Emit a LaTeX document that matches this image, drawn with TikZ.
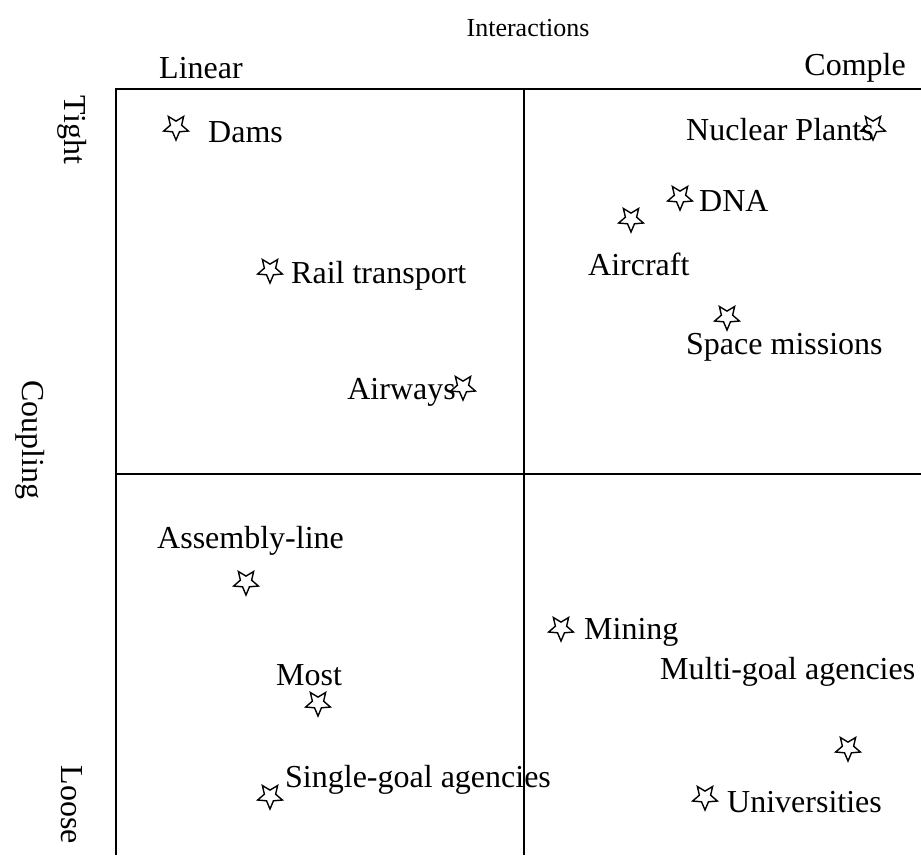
\documentclass[tikz,border=0pt]{standalone}
\usepackage{fontspec}
\setmainfont{Liberation Serif}
\usetikzlibrary{shapes.geometric}
\begin{document}
\begin{tikzpicture}[x=1pt,y=-1pt,
  lbl/.style={inner sep=0pt,font=\fontsize{32}{37}\selectfont},
  lblw/.style={lbl,anchor=west},
  mark5/.style={draw,star,star points=5,star point ratio=2.2,minimum size=26pt,
    inner sep=0pt,shape border rotate=180,line width=1.4pt},
  grid/.style={line width=1.6pt}]
\useasboundingbox (0,0) rectangle (921,855);

% axes frame and quadrant dividers
\coordinate (tl) at (116,89);
\coordinate (tr) at (921,89);
\coordinate (bl) at (116,855);
\coordinate (mt) at (524,89);
\coordinate (mb) at (524,855);
\coordinate (ml) at (116,474);
\coordinate (mr) at (921,474);
\draw[grid] (bl) -- (tl) -- (tr);
\draw[grid] (mt) -- (mb);
\draw[grid] (ml) -- (mr);

% axis titles
\node[lbl,font=\fontsize{26}{30}\selectfont] (inter) at (528,28) {Interactions};
\node[lblw] (linear) at (159,68) {Linear};
\node[lbl,anchor=east] (complex) at (906,68) {Comple};
\node[lbl,rotate=-90] (tight) at (72,130) {Tight};
\node[lbl,rotate=-90] (coupling) at (30,440) {Coupling};
\node[lbl,rotate=-90] (loose) at (72,805) {Loose};

% upper left quadrant
\node[mark5] (sDams) at (176,127) {};
\node[lblw] (tDams) at (208,132) {Dams};
\node[mark5] (sRail) at (270,270) {};
\node[lblw] (tRail) at (291,276) {Rail transport};
\node[lbl,anchor=east] (tAir) at (456,392) {Airways};
\node[mark5] (sAir) at (463,387) {};

% upper right quadrant
\node[lblw] (tNuc) at (686,130) {Nuclear Plants};
\node[mark5] (sNuc) at (873,127) {};
\node[mark5] (sDNA) at (680,197) {};
\node[lblw] (tDNA) at (699,201) {DNA};
\node[mark5] (sCraft) at (631,219) {};
\node[lblw] (tCraft) at (588,264) {Aircraft};
\node[mark5] (sSpace) at (727,317) {};
\node[lblw] (tSpace) at (686,347) {Space missions};

% lower left quadrant
\node[lblw] (tAsm) at (157,541) {Assembly-line};
\node[mark5] (sAsm) at (246,582) {};
\node[lbl] (tMost) at (309,675) {Most};
\node[mark5] (sMost) at (318,703) {};
\node[mark5] (sSingle) at (270,796) {};
\node[lblw] (tSingle) at (285,780) {Single-goal agencies};

% lower right quadrant
\node[mark5] (sMine) at (561,628) {};
\node[lblw] (tMine) at (584,632) {Mining};
\node[lblw] (tMulti) at (660,672) {Multi-goal agencies};
\node[mark5] (sMulti) at (848,748) {};
\node[mark5] (sUni) at (705,797) {};
\node[lblw] (tUni) at (727,802) {Universities};
\end{tikzpicture}
\end{document}
